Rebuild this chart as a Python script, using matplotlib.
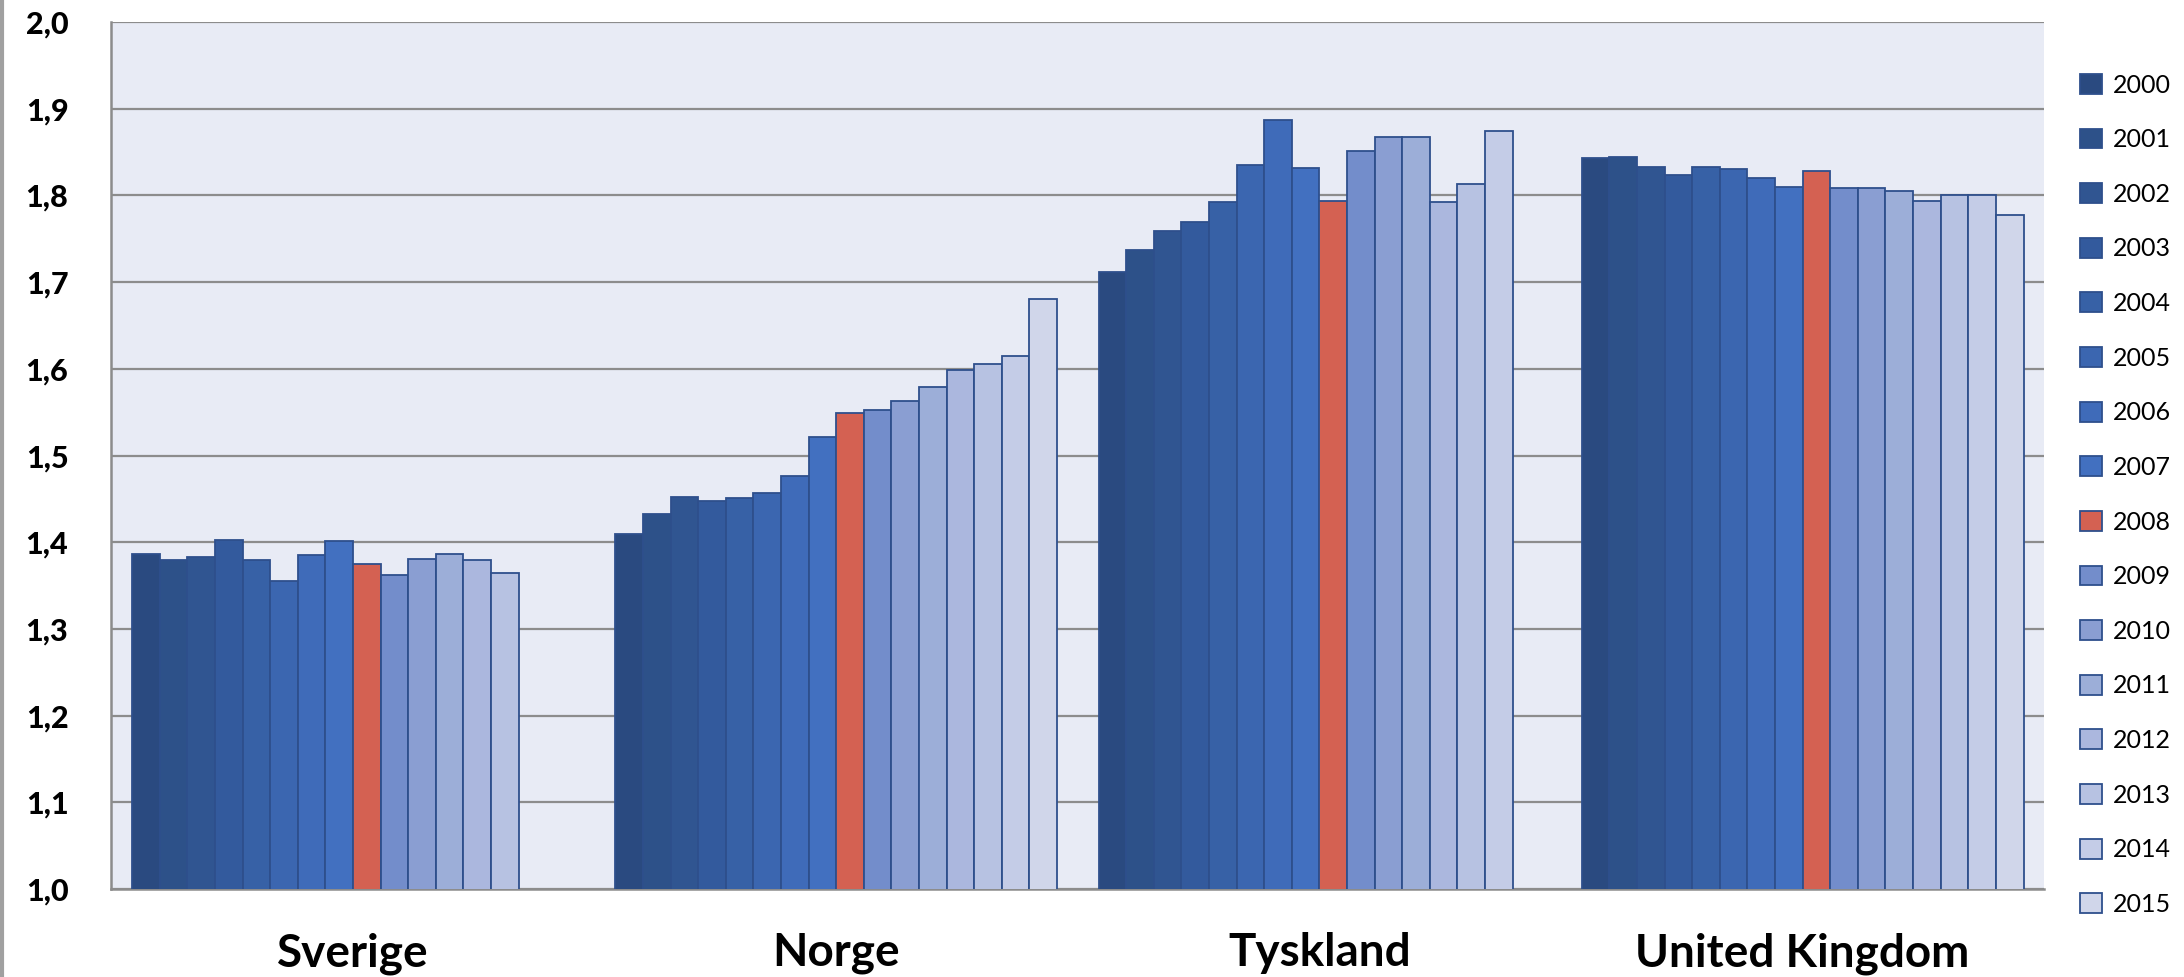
import numpy as np
import matplotlib.pyplot as plt
from matplotlib.lines import Line2D

nan = float("nan")

countries = ["Sverige", "Norge", "Tyskland", "United Kingdom"]
years = [str(y) for y in range(2000, 2016)]

sverige = [1.387, 1.379, 1.383, 1.403, 1.379, 1.355, 1.385, 1.402,
           1.375, 1.362, 1.381, 1.387, 1.380, 1.364, nan, nan]
norge = [1.410, 1.432, 1.452, 1.447, 1.451, 1.457, 1.476, 1.521,
         1.549, 1.552, 1.563, 1.579, 1.599, 1.605, 1.615, 1.680]
tyskland = [1.712, 1.737, 1.759, 1.769, 1.792, 1.835, 1.887, 1.832,
            1.794, 1.851, 1.867, 1.867, 1.792, 1.813, 1.874, nan]
uk = [1.843, 1.844, 1.833, 1.824, 1.833, 1.830, 1.820, 1.810,
      1.828, 1.808, 1.809, 1.805, 1.794, 1.800, 1.800, 1.777]

yticks = [1.0, 1.1, 1.2, 1.3, 1.4, 1.5, 1.6, 1.7, 1.8, 1.9, 2.0]
ytick_labels = ["1,0", "1,1", "1,2", "1,3", "1,4", "1,5", "1,6", "1,7", "1,8", "1,9", "2,0"]

colors = ["#2A4A80", "#2D5189", "#305591", "#335A9D", "#3761A6", "#3B66B0",
          "#3F6BB9", "#4270C0", "#D46152", "#738DCB", "#8A9ED2", "#9CAED8",
          "#ABB7DE", "#B7C2E2", "#C4CCE7", "#D0D6EA"]

values = np.array([sverige, norge, tyskland, uk])

fig = plt.figure(figsize=(21.84, 9.77), dpi=100)
ax = fig.add_axes([0.051, 0.09, 0.885, 0.8875])
ax.set_facecolor("#E8EBF5")

n = len(years)
width = 1.0 / (n + 1.5)
x = np.arange(len(countries))
for i, year in enumerate(years):
    offs = (i - (n - 1) / 2.0) * width
    ax.bar(x + offs, values[:, i], width=width, bottom=0, color=colors[i],
           edgecolor="#2E4F8C", linewidth=1.3, label=year, zorder=3)

ax.set_xlim(-0.5, len(countries) - 0.5)
ax.set_ylim(1.0, 2.0)
ax.set_yticks(yticks)
ax.set_yticklabels(ytick_labels, fontfamily="Lato", fontweight="black", fontsize=22)
ax.set_xticks(x)
ax.set_xticklabels(countries, fontfamily="Lato", fontweight="bold", fontsize=33)
ax.tick_params(axis="y", length=0, pad=31)
ax.tick_params(axis="x", length=0, pad=31)
ax.grid(axis="y", color="#8C8C8C", linewidth=1.6, zorder=0)
ax.set_axisbelow(True)
for side in ["top", "right"]:
    ax.spines[side].set_visible(False)
for side in ["left", "bottom"]:
    ax.spines[side].set_color("#8C8C8C")
    ax.spines[side].set_linewidth(1.8)

leg = ax.legend(loc="upper left", bbox_to_anchor=(0.948, 0.935),
                bbox_transform=fig.transFigure, frameon=False,
                prop={"family": "Lato", "size": 18}, handlelength=0.85,
                handleheight=0.85, handletextpad=0.45, labelspacing=1.265,
                borderaxespad=0)

fig.add_artist(Line2D([0.001, 0.001], [0, 1], transform=fig.transFigure,
                      color="#A0A0A0", linewidth=3))

fig.savefig("out.png", dpi=100)
